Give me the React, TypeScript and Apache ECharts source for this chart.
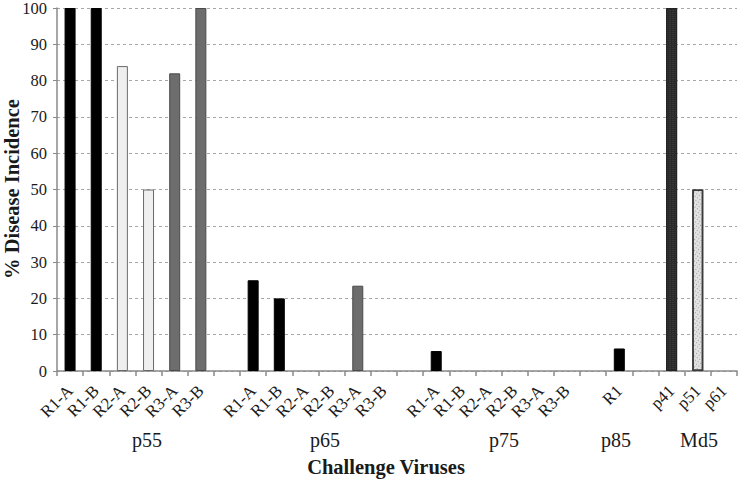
import React, { useEffect, useRef } from "react";
import * as echarts from "echarts";

const categories: string[] = [
  "R1-A", "R1-B", "R2-A", "R2-B", "R3-A", "R3-B", "",
  "R1-A", "R1-B", "R2-A", "R2-B", "R3-A", "R3-B", "",
  "R1-A", "R1-B", "R2-A", "R2-B", "R3-A", "R3-B", "",
  "R1", "",
  "p41", "p51", "p61",
];

const incidence: (number | null)[] = [
  100, 100, 84, 50, 82, 100, null,
  25, 20, 0, 0, 23.5, 0, null,
  5.5, 0, 0, 0, 0, 0, null,
  6.2, null,
  100, 50, 0,
];

const groupLabels: string[] = ["p55", "p65", "p75", "p85", "Md5"];
const groupLabelX: number[] = [147, 325, 504, 616, 699];

const yTicks = { min: 0, max: 100, interval: 10 };

const serif = "'Liberation Serif', 'Times New Roman', serif";

function styleFor(label: string, v: number | null) {
  const bw = v ? 1 : 0;
  if (label.startsWith("R1")) return { color: "#000000", borderColor: "#000000", borderWidth: bw };
  if (label.startsWith("R2")) return { color: "#efefef", borderColor: "#6a6a6a", borderWidth: bw };
  if (label.startsWith("R3")) return { color: "#6d6d6d", borderColor: "#4a4a4a", borderWidth: bw };
  if (label === "p41")
    return {
      color: "#2a2a2a",
      borderColor: "#222222",
      borderWidth: bw,
      decal: { symbol: "rect", symbolSize: 0.6, color: "#555555", dashArrayX: [2, 1], dashArrayY: [1, 1], rotation: 0 },
    };
  if (label === "p51")
    return {
      color: "#e2e2e2",
      borderColor: "#3a3a3a",
      borderWidth: bw ? 1.5 : 0,
      decal: { symbol: "rect", symbolSize: 1, color: "#9a9a9a", dashArrayX: [1, 2], dashArrayY: [1, 2], rotation: 0.6 },
    };
  return { color: "#000000", borderWidth: 0 };
}

export default function App() {
  const ref = useRef<HTMLDivElement>(null);
  useEffect(() => {
    if (!ref.current) return;
    const chart = echarts.init(ref.current, undefined, { renderer: "svg" });
    const data = incidence.map((v, i) => ({
      value: v,
      itemStyle: styleFor(categories[i], v),
    }));
    chart.setOption({
      animation: false,
      backgroundColor: "#ffffff",
      grid: { left: 57, right: 5, top: 8, bottom: 110, containLabel: false, outerBoundsMode: "none" },
      xAxis: {
        type: "category",
        data: categories,
        boundaryGap: true,
        axisLine: { show: true, lineStyle: { color: "#8a8a8a", width: 1.5 } },
        axisTick: { show: true, alignWithLabel: false, length: 5, lineStyle: { color: "#8a8a8a", width: 1.5 } },
        axisLabel: {
          interval: 0,
          rotate: 45,
          margin: 17,
          fontFamily: serif,
          fontSize: 17,
          color: "#1a1a1a",
        },
        splitLine: { show: false },
      },
      yAxis: {
        type: "value",
        min: yTicks.min,
        max: yTicks.max,
        interval: yTicks.interval,
        axisLine: { show: true, lineStyle: { color: "#8a8a8a", width: 1.5 } },
        axisTick: { show: true, length: 4, lineStyle: { color: "#8a8a8a" } },
        axisLabel: { fontFamily: serif, fontSize: 16.5, color: "#1a1a1a", margin: 10 },
        splitLine: { show: true, lineStyle: { color: "#a8a8a8", type: [3, 3], width: 1 } },
      },
      series: [
        {
          type: "bar",
          data,
          barWidth: 11,
        },
      ],
      graphic: [
        {
          type: "text",
          x: 12,
          y: 189,
          rotation: Math.PI / 2,
          style: {
            text: "% Disease Incidence",
            fontFamily: serif,
            fontSize: 20.5,
            fontWeight: "bold",
            fill: "#1a1a1a",
            align: "center",
            verticalAlign: "middle",
          },
        },
        ...groupLabels.map((g, i) => ({
          type: "text",
          x: groupLabelX[i],
          y: 440,
          style: { text: g, fontFamily: serif, fontSize: 20, fill: "#1a1a1a", align: "center", verticalAlign: "middle" },
        })),
        {
          type: "text",
          x: 386,
          y: 467,
          style: {
            text: "Challenge Viruses",
            fontFamily: serif,
            fontSize: 20.5,
            fontWeight: "bold",
            fill: "#1a1a1a",
            align: "center",
            verticalAlign: "middle",
          },
        },
      ],
    });
    return () => chart.dispose();
  }, []);
  return <div ref={ref} style={{ width: 742, height: 481, position: "absolute", left: 0, top: 0 }} />;
}
